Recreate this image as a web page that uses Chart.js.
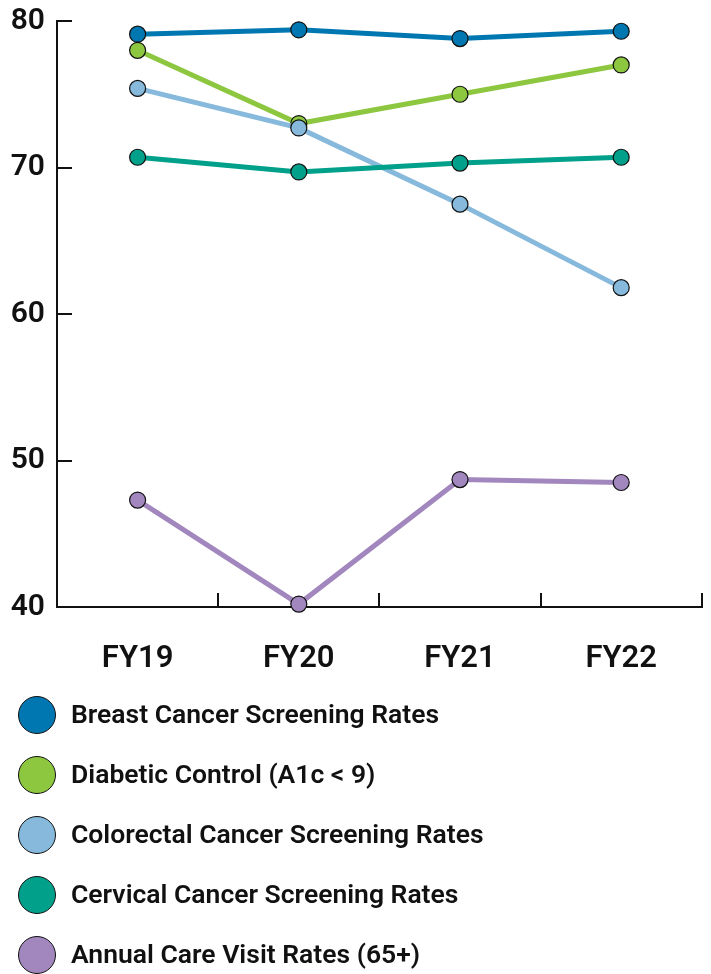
<!DOCTYPE html>
<html>
<head>
<meta charset="utf-8">
<script src="https://cdn.jsdelivr.net/npm/chart.js@4/dist/chart.umd.min.js"></script>
<style>
  html, body { margin: 0; padding: 0; background: #fff; }
  #wrap { position: relative; width: 711px; height: 690px; }
  #legend { position: absolute; left: 0; top: 685px; width: 711px; }
  .item { position: relative; height: 60px; font-family: Roboto, sans-serif; font-weight: 600; font-size: 26.5px; color: #111; }
  .dot { position: absolute; left: 18px; top: 11px; width: 36px; height: 36px; border-radius: 50%; border: 1.5px solid #111; }
  .lbl { position: absolute; left: 71px; top: 13px; white-space: nowrap; }
</style>
</head>
<body>
<div id="wrap"><canvas id="c"></canvas></div>
<div id="legend"></div>
<script>
// カテゴリと系列データ
const years = ['FY19', 'FY20', 'FY21', 'FY22'];
const seriesNames = [
    'Breast Cancer Screening Rates',
    'Diabetic Control (A1c < 9)',
    'Colorectal Cancer Screening Rates',
    'Cervical Cancer Screening Rates',
    'Annual Care Visit Rates (65+)'
];
const breastRates = [79.1, 79.4, 78.8, 79.3];
const diabeticRates = [78.0, 73.0, 75.0, 77.0];
const colorectalRates = [75.4, 72.7, 67.5, 61.8];
const cervicalRates = [70.7, 69.7, 70.3, 70.7];
const annualRates = [47.3, 40.2, 48.7, 48.5];
const yTicks = [40, 50, 60, 70, 80];

const colors = ['#0077b0', '#8dc63f', '#86b9db', '#00a08a', '#a287be'];
const allValues = [breastRates, diabeticRates, colorectalRates, cervicalRates, annualRates];

const datasets = allValues.map((vals, i) => ({
    label: seriesNames[i],
    data: vals,
    borderColor: colors[i],
    backgroundColor: colors[i],
    borderWidth: 5,
    pointRadius: 8,
    pointHoverRadius: 8,
    pointBorderColor: '#111',
    pointBorderWidth: 1.2,
    pointBackgroundColor: colors[i],
    tension: 0,
    order: -i,
    clip: false
}));

const canvas = document.getElementById('c');
canvas.width = 711;
canvas.height = 690;

new Chart(canvas, {
    type: 'line',
    data: { labels: years, datasets: datasets },
    options: {
        responsive: false,
        animation: false,
        devicePixelRatio: 1,
        layout: { padding: { top: 21, right: 7, left: 0, bottom: 0 } },
        plugins: { legend: { display: false }, tooltip: { enabled: false } },
        scales: {
            x: {
                offset: true,
                grid: { display: true, offset: true, drawOnChartArea: false, drawTicks: true, tickLength: -14, color: '#111', lineWidth: 2 },
                border: { display: true, color: '#111', width: 2 },
                ticks: { color: '#111', padding: 48, font: { family: 'Roboto', size: 31, weight: 600 } },
                afterFit: s => { s.height = 83; s.paddingLeft = 0; s.paddingRight = 0; }
            },
            y: {
                min: 40,
                max: 80,
                afterBuildTicks: s => { s.ticks = yTicks.map(v => ({ value: v })); },
                grid: { display: true, drawOnChartArea: false, drawTicks: true, tickLength: -15, color: '#111', lineWidth: 2 },
                border: { display: true, color: '#111', width: 2 },
                ticks: { color: '#111', padding: 27, font: { family: 'Roboto', size: 30, weight: 600 } },
                afterFit: s => { s.width = 57; s.paddingTop = 0; s.paddingBottom = 0; }
            }
        }
    }
});

// 凡例（HTML）
const legend = document.getElementById('legend');
seriesNames.forEach((name, i) => {
    const row = document.createElement('div');
    row.className = 'item';
    row.innerHTML = `<span class="dot" style="background:${colors[i]}"></span><span class="lbl"></span>`;
    row.querySelector('.lbl').textContent = name;
    legend.appendChild(row);
});
</script>
</body>
</html>
